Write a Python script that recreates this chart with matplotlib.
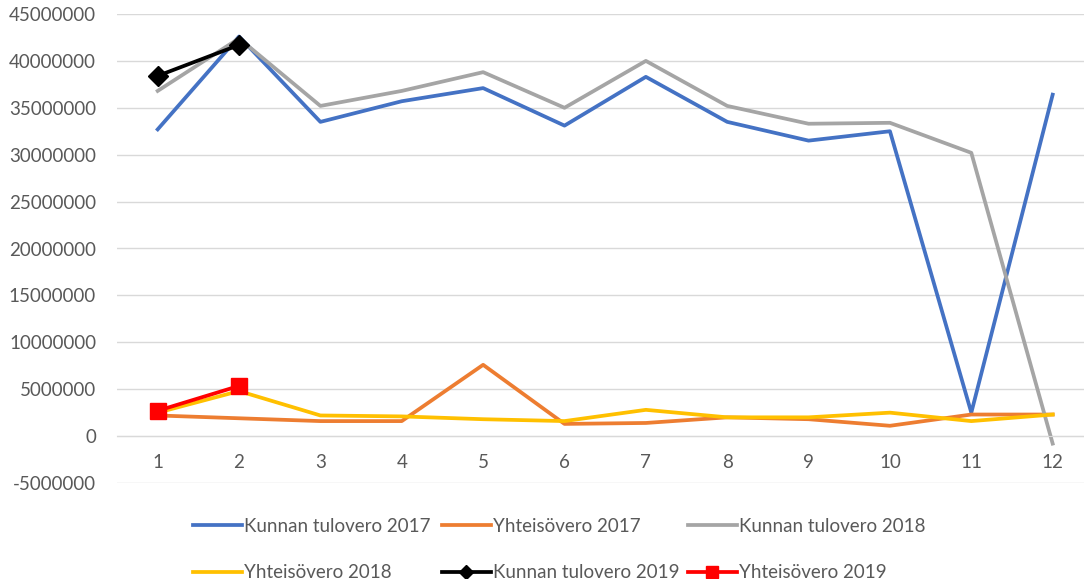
import matplotlib.pyplot as plt
from matplotlib.ticker import MultipleLocator, FuncFormatter

plt.rcParams['font.family'] = ['Lato', 'DejaVu Sans']

months = list(range(1, 13))
kunta_2017 = [32.7e6, 42.6e6, 33.5e6, 35.7e6, 37.1e6, 33.1e6, 38.3e6, 33.5e6, 31.5e6, 32.5e6, 2.5e6, 36.4e6]
yhteiso_2017 = [2.2e6, 1.9e6, 1.6e6, 1.6e6, 7.6e6, 1.3e6, 1.4e6, 2.0e6, 1.8e6, 1.1e6, 2.3e6, 2.3e6]
kunta_2018 = [36.8e6, 42.4e6, 35.2e6, 36.8e6, 38.8e6, 35.0e6, 40.0e6, 35.2e6, 33.3e6, 33.4e6, 30.2e6, -0.8e6]
yhteiso_2018 = [2.5e6, 4.8e6, 2.2e6, 2.1e6, 1.8e6, 1.6e6, 2.8e6, 2.0e6, 2.0e6, 2.5e6, 1.6e6, 2.3e6]
kunta_2019 = [38.4e6, 41.7e6]
yhteiso_2019 = [2.7e6, 5.35e6]

txt = '#595959'
grid = '#d9d9d9'

fig = plt.figure(figsize=(10.84, 5.79), dpi=100)
ax = fig.add_axes([117/1084, 1 - 483/579, 967/1084, (483 - 14)/579])

lw = 2.7
l1, = ax.plot(months, kunta_2017, color='#4472c4', lw=lw, label='Kunnan tulovero 2017')
l2, = ax.plot(months, yhteiso_2017, color='#ed7d31', lw=lw, label='Yhteisövero 2017')
l3, = ax.plot(months, kunta_2018, color='#a5a5a5', lw=lw, label='Kunnan tulovero 2018')
l4, = ax.plot(months, yhteiso_2018, color='#ffc000', lw=lw, label='Yhteisövero 2018')
l5, = ax.plot(months[:2], kunta_2019, color='black', lw=lw, marker='D', ms=10,
              label='Kunnan tulovero 2019')
l6, = ax.plot(months[:2], yhteiso_2019, color='#ff0000', lw=lw, marker='s', ms=12,
              label='Yhteisövero 2019')

ax.set_xlim(0.5, 12.385)
ax.set_ylim(-5e6, 45e6)
ax.yaxis.set_major_locator(MultipleLocator(5e6))
ax.yaxis.set_major_formatter(FuncFormatter(lambda v, p: f'{v:.0f}'))
ax.set_xticks(months)
ax.grid(axis='y', color=grid, lw=1)
ax.set_axisbelow(True)
for s in ['top', 'right', 'left']:
    ax.spines[s].set_visible(False)
ax.spines['bottom'].set_position(('data', 0))
ax.spines['bottom'].set_color(grid)
ax.tick_params(axis='both', length=0, labelsize=13.5, labelcolor=txt)
ax.tick_params(axis='y', pad=15)
ax.tick_params(axis='x', pad=13)

# three legend columns, placed like the original
cols = [(193, [l1, l4]), (442, [l2, l5]), (688, [l3, l6])]
for x0, hs in cols:
    fig.legend(handles=hs, loc='upper left', bbox_to_anchor=(x0/1084, 1 - 518/579),
               frameon=False, fontsize=13.5, labelcolor=txt, handlelength=2.6,
               handletextpad=0.1, labelspacing=1.55, borderpad=0, borderaxespad=0,
               markerscale=0.7)

fig.savefig('out.png', dpi=100)
